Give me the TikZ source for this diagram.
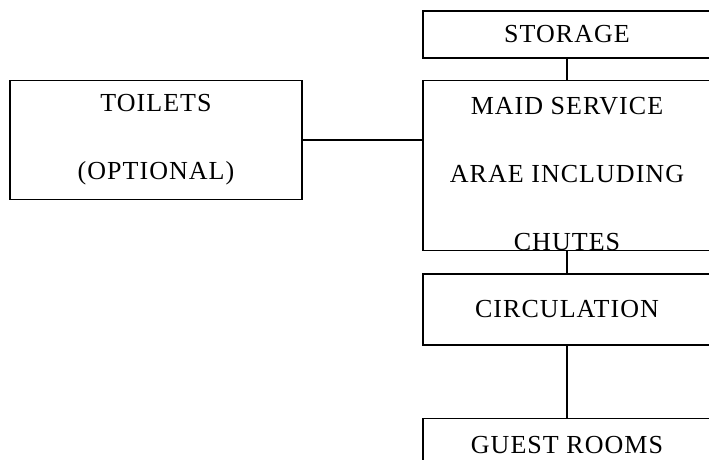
\documentclass[tikz,border=0pt]{standalone}
\usepackage{fontspec}
\setmainfont{Liberation Serif}[LetterSpace=4]
\usetikzlibrary{positioning}

\begin{document}
\begin{tikzpicture}[x=1pt,y=1pt,
    room/.style={draw, line width=1.3pt, minimum width=288pt, inner sep=0pt,
      font=\fontsize{26}{68}\selectfont, align=center},
    link/.style={line width=1.3pt}]
  \clip (0,0) rectangle (709,-459);
  % service core, right column
  \node[room, minimum height=47pt] (storage) at (567,-34.5) {STORAGE};
  \node[room, minimum height=167pt] (maid) at (567,-165.5)
    {\rule{0pt}{34pt}MAID SERVICE\\ARAE INCLUDING\\CHUTES};
  \node[room, minimum height=71pt] (circ) at (567,-309.5) {CIRCULATION};
  \node[room, minimum height=54pt, below=72pt of circ] (guest) {GUEST ROOMS};
  % optional toilets, left
  \node[room, minimum width=292pt, minimum height=119pt] (toilets) at (156,-140)
    {TOILETS\\(OPTIONAL)};
  % links
  \draw[link] (storage) -- (maid);
  \draw[link] (maid) -- (circ);
  \draw[link] (circ) -- (guest);
  \draw[link] (toilets.east) -- (toilets.east -| maid.west);
\end{tikzpicture}
\end{document}
